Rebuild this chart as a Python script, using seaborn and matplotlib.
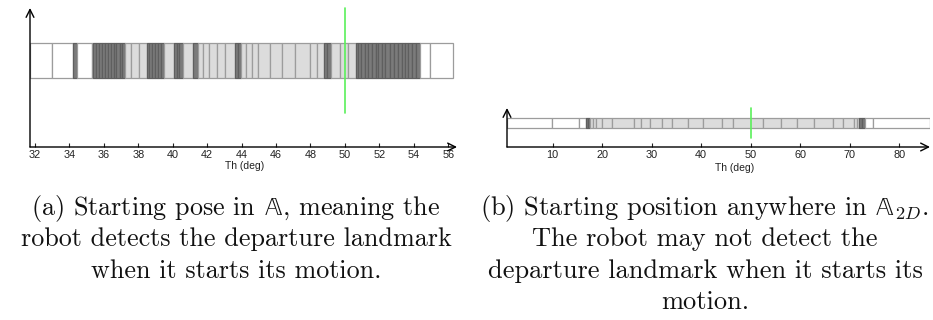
import matplotlib
matplotlib.use("Agg")
import numpy as np
import pandas as pd
import seaborn as sns
import matplotlib.pyplot as plt

# ---- interval boundaries (deg) and cell classes: W = empty, L = light, D = dense ----
edges_a = [31.71, 33.0, 34.19, 34.44, 35.29, 35.39, 35.56, 35.70, 35.89, 36.08,
           36.24, 36.43, 36.57, 36.72, 36.92, 37.07, 37.25, 37.6, 38.06, 38.49,
           38.65, 38.8, 38.97, 39.12, 39.3, 39.5, 40.07, 40.22, 40.38, 40.61,
           41.2, 41.47, 41.77, 42.12, 42.55, 43.05, 43.6, 43.78, 43.95, 44.25,
           44.58, 44.98, 45.65, 46.35, 47.1, 47.98, 48.37, 48.76, 48.95, 49.17,
           49.71, 50.19, 50.66, 50.77, 50.93, 51.16, 51.32, 51.55, 51.78, 51.94,
           52.17, 52.33, 52.62, 52.87, 53.1, 53.3, 53.49, 53.68, 53.88, 54.1,
           54.36, 54.94, 56.3]
kinds_a = ("WWDWW" "DDDDDDDDDDD" "LLL" "DDDDDD" "L" "DDD" "L" "D" "LLLLL" "DD"
           "LLLLLLLLL" "DD" "LLL" "DDDDDDDDDDDDDDDDDD" "WW")

edges_b = [0.77, 9.92, 15.37, 16.73, 17.15, 17.54, 18.08, 18.69, 20.02, 22.04,
           26.49, 27.78, 29.66, 32.02, 34.04, 37.4, 40.3, 44.14, 46.48, 52.55,
           56.12, 59.29, 62.85, 66.57, 68.59, 70.93, 71.54, 71.94, 72.5, 73.09,
           74.77, 86.2]
kinds_b = "WWWDD" "LLLLLLLLLLLLLLLLLLLLLL" "DDWW"

ticks_a = [32, 34, 36, 38, 40, 42, 44, 46, 48, 50, 52, 54, 56]
ticks_b = [10, 20, 30, 40, 50, 60, 70, 80]
start_theta = 50

caption_a = ["(a) Starting pose in $\\mathrm{\\mathbb{A}}$, meaning the",
             "robot detects the departure landmark",
             "when it starts its motion."]
caption_b = ["(b) Starting position anywhere in $\\mathrm{\\mathbb{A}}_{2D}$.",
             "The robot may not detect the",
             "departure landmark when it starts its",
             "motion."]

FILL = {"W": "#ffffff", "L": "#dcdcdc", "D": "#7b7b7b"}
EDGE = {"W": "#9c9c9c", "L": "#9c9c9c", "D": "#5f5f5f"}

sns.set_theme(style="white")
plt.rcParams["font.family"] = ["Liberation Sans", "DejaVu Sans"]
plt.rcParams["mathtext.fontset"] = "cm"

fig = plt.figure(figsize=(9.33, 3.2), dpi=100)
W, H = 933.0, 320.0
ax_a = fig.add_axes([30 / W, 1 - 147 / H, 427 / W, 139 / H])
ax_b = fig.add_axes([507 / W, 1 - 147 / H, 423 / W, 39 / H])


def draw_panel(ax, edges, kinds, xlim, ticks, line_lo, label_x, label_y):
    assert len(kinds) == len(edges) - 1
    cells = pd.DataFrame({"start": edges[:-1],
                          "width": np.diff(edges),
                          "kind": list(kinds)})
    ax.barh(y=0.5, width=cells["width"], left=cells["start"], height=0.25,
            align="edge", color=[FILL[k] for k in cells["kind"]],
            edgecolor=[EDGE[k] for k in cells["kind"]], linewidth=0.9)
    ax.axvline(start_theta, ymin=line_lo, ymax=1.0, color="#5af05a",
               lw=1.2, clip_on=False, zorder=5)
    ax.set_xlim(*xlim)
    ax.set_ylim(0, 1)
    for s in ax.spines.values():
        s.set_visible(False)
    ax.set_yticks([])
    ax.set_xticks(ticks)
    ax.tick_params(axis="x", direction="in", length=3, width=0.8, pad=2,
                   labelsize=7.8, bottom=True, colors="#222222")
    arrow = dict(arrowstyle="->", color="black", lw=1.0, shrinkA=0,
                 shrinkB=0, mutation_scale=14)
    ax.annotate("", xy=(1, 0), xytext=(0, 0), xycoords="axes fraction",
                arrowprops=arrow)
    ax.annotate("", xy=(0, 1), xytext=(0, 0), xycoords="axes fraction",
                arrowprops=arrow)
    ax.text(label_x, label_y, "Th (deg)", transform=ax.transAxes,
            ha="center", va="center", fontsize=7.5, color="#222222")


draw_panel(ax_a, edges_a, kinds_a, (31.71, 56.51), ticks_a, 0.245,
           0.503, -0.137)
draw_panel(ax_b, edges_b, kinds_b, (0.77, 86.22), ticks_b, 0.22,
           0.539, -0.53)

for i, line in enumerate(caption_a):
    fig.text(236 / W, 1 - (208 + 31.5 * i) / H, line, ha="center",
             va="center", fontsize=18.8, family="cmr10", color="#111111")
for i, line in enumerate(caption_b):
    fig.text(705 / W, 1 - (208 + 31.5 * i) / H, line, ha="center",
             va="center", fontsize=19.0, family="cmr10", color="#111111")

fig.savefig("out.png", dpi=100)
